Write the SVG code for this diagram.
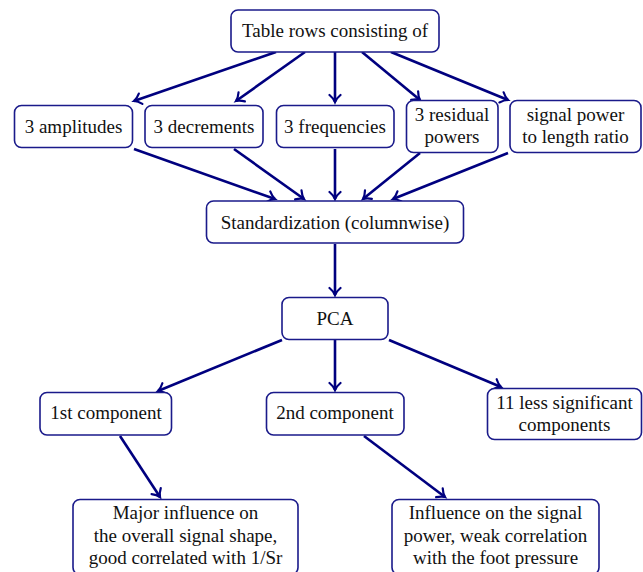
<svg xmlns="http://www.w3.org/2000/svg" width="643" height="572" viewBox="0 0 643 572" font-family="'Liberation Serif', serif">
<defs>
<marker id="arr" markerUnits="userSpaceOnUse" markerWidth="12" markerHeight="14" refX="9" refY="7" orient="auto">
<path d="M2,1.5 C4.5,4.5 7,6.2 9,7 C7,7.8 4.5,9.5 2,12.5" fill="none" stroke="#00007f" stroke-width="2.2" stroke-linecap="round"/>
</marker>
</defs>
<style>
.box{fill:#fff;stroke:#1a1a8a;stroke-width:1.6}
.edge{stroke:#00007f;stroke-width:2.6;fill:none}
</style>
<rect width="643" height="572" fill="#fff"/>
<g id="connectors">
<line class="edge" marker-end="url(#arr)" x1="276" y1="52" x2="134" y2="101"/>
<line class="edge" marker-end="url(#arr)" x1="305" y1="52" x2="236" y2="101"/>
<line class="edge" marker-end="url(#arr)" x1="335" y1="52" x2="335" y2="102"/>
<line class="edge" marker-end="url(#arr)" x1="362" y1="52" x2="420" y2="100"/>
<line class="edge" marker-end="url(#arr)" x1="391" y1="52" x2="508" y2="100"/>
<line class="edge" marker-end="url(#arr)" x1="134" y1="149" x2="275" y2="199"/>
<line class="edge" marker-end="url(#arr)" x1="234" y1="149" x2="304" y2="199"/>
<line class="edge" marker-end="url(#arr)" x1="335" y1="149" x2="335" y2="199"/>
<line class="edge" marker-end="url(#arr)" x1="420" y1="153" x2="363" y2="199"/>
<line class="edge" marker-end="url(#arr)" x1="508" y1="153" x2="393" y2="199"/>
<line class="edge" marker-end="url(#arr)" x1="335" y1="244" x2="335" y2="295"/>
<line class="edge" marker-end="url(#arr)" x1="282" y1="340" x2="158" y2="391"/>
<line class="edge" marker-end="url(#arr)" x1="335" y1="340" x2="335" y2="390"/>
<line class="edge" marker-end="url(#arr)" x1="389" y1="340" x2="501" y2="387"/>
<line class="edge" marker-end="url(#arr)" x1="120" y1="436" x2="160" y2="497"/>
<line class="edge" marker-end="url(#arr)" x1="364" y1="436" x2="445" y2="497"/>
</g>
<g id="n-table"><rect class="box" x="231" y="10" width="208" height="42" rx="7"/><text style="font-family:'Liberation Serif',serif !important" font-size="19" fill="#111" text-anchor="middle" x="335" y="37">Table rows consisting of</text></g>
<g id="n-amp"><rect class="box" x="14.5" y="105.5" width="118" height="42" rx="7"/><text style="font-family:'Liberation Serif',serif !important" font-size="19" fill="#111" text-anchor="middle" x="73.5" y="133">3 amplitudes</text></g>
<g id="n-dec"><rect class="box" x="145" y="105.5" width="118" height="42" rx="7"/><text style="font-family:'Liberation Serif',serif !important" font-size="19" fill="#111" text-anchor="middle" x="204" y="133">3 decrements</text></g>
<g id="n-freq"><rect class="box" x="276.5" y="105.5" width="117.5" height="42" rx="7"/><text style="font-family:'Liberation Serif',serif !important" font-size="19" fill="#111" text-anchor="middle" x="335" y="133">3 frequencies</text></g>
<g id="n-res"><rect class="box" x="406.5" y="100.5" width="91.5" height="52" rx="7"/><text style="font-family:'Liberation Serif',serif !important" font-size="19" fill="#111" text-anchor="middle" x="452" y="121">3 residual</text><text style="font-family:'Liberation Serif',serif !important" font-size="19" fill="#111" text-anchor="middle" x="452" y="143">powers</text></g>
<g id="n-sig"><rect class="box" x="510" y="100.5" width="131" height="52" rx="7"/><text style="font-family:'Liberation Serif',serif !important" font-size="19" fill="#111" text-anchor="middle" x="575.5" y="121">signal power</text><text style="font-family:'Liberation Serif',serif !important" font-size="19" fill="#111" text-anchor="middle" x="575.5" y="143">to length ratio</text></g>
<g id="n-std"><rect class="box" x="206.5" y="201" width="257" height="42" rx="7"/><text style="font-family:'Liberation Serif',serif !important" font-size="19" fill="#111" text-anchor="middle" x="335" y="228.5">Standardization (columnwise)</text></g>
<g id="n-pca"><rect class="box" x="282" y="297.5" width="106" height="42" rx="7"/><text style="font-family:'Liberation Serif',serif !important" font-size="19" fill="#111" text-anchor="middle" x="335" y="324.5">PCA</text></g>
<g id="n-c1"><rect class="box" x="40" y="392.5" width="131.5" height="42.5" rx="7"/><text style="font-family:'Liberation Serif',serif !important" font-size="19" fill="#111" text-anchor="middle" x="106" y="419">1st component</text></g>
<g id="n-c2"><rect class="box" x="266.5" y="392.5" width="137.5" height="42.5" rx="7"/><text style="font-family:'Liberation Serif',serif !important" font-size="19" fill="#111" text-anchor="middle" x="335" y="419">2nd component</text></g>
<g id="n-c11"><rect class="box" x="487.5" y="388.5" width="154" height="51" rx="7"/><text style="font-family:'Liberation Serif',serif !important" font-size="19" fill="#111" text-anchor="middle" x="564.5" y="408.5">11 less significant</text><text style="font-family:'Liberation Serif',serif !important" font-size="19" fill="#111" text-anchor="middle" x="564.5" y="430.5">components</text></g>
<g id="n-major"><rect class="box" x="73" y="499.5" width="225" height="75" rx="7"/><text style="font-family:'Liberation Serif',serif !important" font-size="19" fill="#111" text-anchor="middle" x="185.5" y="519">Major influence on</text><text style="font-family:'Liberation Serif',serif !important" font-size="19" fill="#111" text-anchor="middle" x="185.5" y="542">the overall signal shape,</text><text style="font-family:'Liberation Serif',serif !important" font-size="19" fill="#111" text-anchor="middle" x="185.5" y="564">good correlated with 1/Sr</text></g>
<g id="n-infl"><rect class="box" x="392" y="499.5" width="207" height="75" rx="7"/><text style="font-family:'Liberation Serif',serif !important" font-size="19" fill="#111" text-anchor="middle" x="495.5" y="519">Influence on the signal</text><text style="font-family:'Liberation Serif',serif !important" font-size="19" fill="#111" text-anchor="middle" x="495.5" y="542">power, weak correlation</text><text style="font-family:'Liberation Serif',serif !important" font-size="19" fill="#111" text-anchor="middle" x="495.5" y="564">with the foot pressure</text></g>
</svg>
